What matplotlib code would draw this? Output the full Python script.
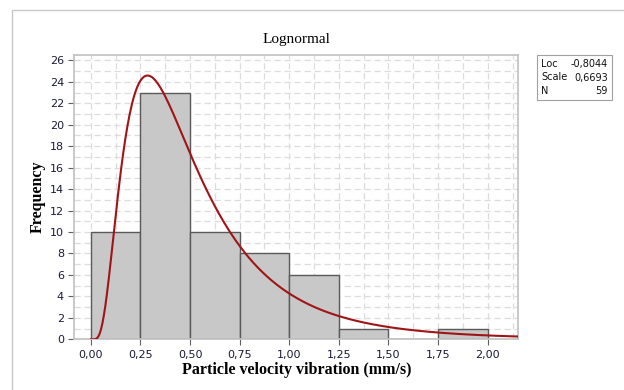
import matplotlib
matplotlib.use('Agg')
import matplotlib.pyplot as plt
import numpy as np
from matplotlib.patches import Rectangle
from matplotlib.ticker import FuncFormatter, MultipleLocator

# Histogram data (bin edges at 0.25 steps)
bin_edges = [0.0, 0.25, 0.5, 0.75, 1.0, 1.25, 1.5, 1.75, 2.0]
counts = [10, 23, 10, 8, 6, 1, 0, 1]

# Fitted lognormal parameters shown in the stats box
loc = -0.8044
scale = 0.6693
n_obs = 59

W, H = 624, 390
fig = plt.figure(figsize=(W / 100, H / 100), dpi=100)

# Outer light-grey frame
fig.patches.append(Rectangle((12 / W, -0.1), 1.2, 1.1 - 10 / H, transform=fig.transFigure,
                             fill=False, edgecolor='#c8c8c8', linewidth=1.0))

ax = fig.add_axes([74.3 / W, 1 - 339.3 / H, (518.3 - 74.3) / W, (339.3 - 55) / H])

widths = np.diff(bin_edges)
ax.bar(bin_edges[:-1], counts, width=widths, align='edge',
       color='#c8c8c8', edgecolor='#5a5a5a', linewidth=1.0, zorder=2)

# Lognormal density scaled to counts
x = np.linspace(0.001, 2.16, 600)
pdf = np.exp(-(np.log(x) - loc) ** 2 / (2 * scale ** 2)) / (x * scale * np.sqrt(2 * np.pi))
ax.plot(x, pdf * n_obs * 0.25, color='#a01418', linewidth=1.5, zorder=3)

ax.set_xlim(-0.083, 2.154)
ax.set_ylim(0, 26.5)

ax.xaxis.set_major_locator(MultipleLocator(0.25))
ax.xaxis.set_minor_locator(MultipleLocator(0.125))
ax.yaxis.set_major_locator(MultipleLocator(2))
ax.yaxis.set_minor_locator(MultipleLocator(1))
ax.xaxis.set_major_formatter(FuncFormatter(lambda v, p: f'{v:.2f}'.replace('.', ',')))

ax.grid(which='both', color='#dcdcdc', linestyle=(0, (5, 3)), linewidth=0.9, zorder=0)
ax.set_axisbelow(True)

for s in ax.spines.values():
    s.set_color('#c0c0c0')
    s.set_linewidth(1.2)

ax.tick_params(which='major', direction='out', length=4, width=0.8, color='#606060',
               labelsize=8, labelcolor='#1a1a3a')
ax.tick_params(which='minor', length=0)

serif = ['Liberation Serif', 'DejaVu Serif']
ax.set_title('Lognormal', fontsize=11, family=serif, pad=9)
ax.set_xlabel('Particle velocity vibration (mm/s)', fontsize=11.5, fontweight='bold',
              family=serif, labelpad=2)
ax.set_ylabel('Frequency', fontsize=11.5, fontweight='bold', family=serif, labelpad=3)

# Stats box
bx0, bx1, by0, by1 = 537, 612, 55, 100
fig.patches.append(Rectangle((bx0 / W, 1 - by1 / H), (bx1 - bx0) / W, (by1 - by0) / H,
                             transform=fig.transFigure, fill=False,
                             edgecolor='#a0a0a0', linewidth=0.8))
rows = [('Loc', f'{loc:.4f}'.replace('.', ',')),
        ('Scale', f'{scale:.4f}'.replace('.', ',')),
        ('N', str(n_obs))]
for i, (k, v) in enumerate(rows):
    yy = 1 - (64 + i * 13.5) / H
    fig.text(541 / W, yy, k, fontsize=7, va='center', ha='left', color='#111111')
    fig.text(608 / W, yy, v, fontsize=7, va='center', ha='right', color='#111111')

fig.savefig('out.png', dpi=100)
